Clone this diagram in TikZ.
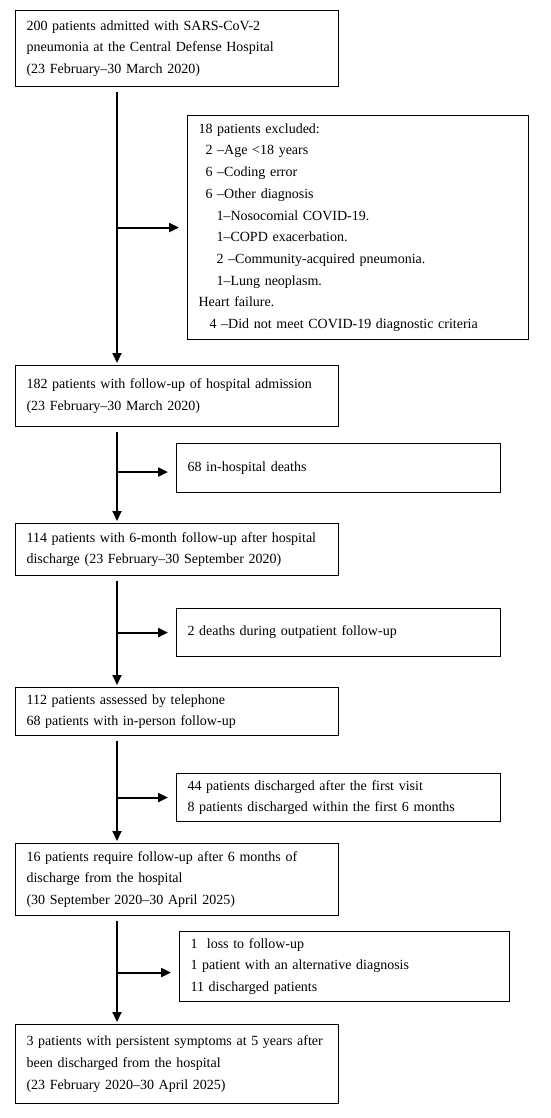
\documentclass[tikz,border=0pt]{standalone}
\usepackage{fontspec}
\setmainfont{Liberation Serif}
\usetikzlibrary{arrows.meta, positioning}

\tikzset{
  mainbox/.style={draw, line width=1.1pt, anchor=north west, align=left,
    text width=301pt, inner xsep=11pt, inner ysep=4pt,
    font=\fontsize{14}{21.7}\selectfont},
  sidebox/.style={mainbox, text width=#1},
  trunk/.style={line width=2pt, -{Triangle[length=10pt,width=9pt]},
    shorten <=5pt, shorten >=2pt},
  branch/.style={line width=2pt, -{Triangle[length=10pt,width=9pt]},
    shorten >=8pt},
}

\begin{document}
\begin{tikzpicture}[x=1pt, y=-1pt]
\useasboundingbox (0,0) rectangle (550,1118);

% main column
\node[mainbox, minimum height=76pt] (admit) at (15,10)
  {200 patients admitted with SARS-CoV-2\\
   pneumonia at the Central Defense Hospital\\
   (23 February--30 March 2020)};
\node[mainbox, minimum height=61pt] (hosp) at (15,365)
  {182 patients with follow-up of hospital admission\\
   (23 February--30 March 2020)};
\node[mainbox, minimum height=52pt] (sixmo) at (15,523)
  {114 patients with 6-month follow-up after hospital\\
   discharge (23 February--30 September 2020)};
\node[mainbox, minimum height=48pt] (phone) at (15,687)
  {112 patients assessed by telephone\\
   68 patients with in-person follow-up};
\node[mainbox, minimum height=72pt] (req) at (15,843)
  {16 patients require follow-up after 6 months of\\
   discharge from the hospital\\
   (30 September 2020--30 April 2025)};
\node[mainbox, minimum height=79pt] (persist) at (15,1024)
  {3 patients with persistent symptoms at 5 years after\\
   been discharged from the hospital\\
   (23 February 2020--30 April 2025)};

% side boxes
\node[sidebox=319pt, minimum height=224pt] (excl) at (187,115)
  {18 patients excluded:\\
   \hspace*{7pt}2 --Age <18 years\\
   \hspace*{7pt}6 --Coding error\\
   \hspace*{7pt}6 --Other diagnosis\\
   \hspace*{18pt}1--Nosocomial COVID-19.\\
   \hspace*{18pt}1--COPD exacerbation.\\
   \hspace*{18pt}2 --Community-acquired pneumonia.\\
   \hspace*{18pt}1--Lung neoplasm.\\
   Heart failure.\\
   \hspace*{11pt}4 --Did not meet COVID-19 diagnostic criteria};
\node[sidebox=302pt, minimum height=49pt] (deaths) at (176,443)
  {68 in-hospital deaths};
\node[sidebox=302pt, minimum height=48pt] (outdeath) at (176,608)
  {2 deaths during outpatient follow-up};
\node[sidebox=302pt, minimum height=48pt] (disch) at (176,773)
  {44 patients discharged after the first visit\\
   8 patients discharged within the first 6 months};
\node[sidebox=308pt, minimum height=70pt] (lost) at (179,931)
  {1\ \ loss to follow-up\\
   1 patient with an alternative diagnosis\\
   11 discharged patients};

% trunk
\coordinate (tx) at (117,0);
\draw[trunk] (admit.south -| tx) -- (hosp.north -| tx);
\draw[trunk] (hosp.south -| tx) -- (sixmo.north -| tx);
\draw[trunk] (sixmo.south -| tx) -- (phone.north -| tx);
\draw[trunk] (phone.south -| tx) -- (req.north -| tx);
\draw[trunk] (req.south -| tx) -- (persist.north -| tx);

% branches
\draw[branch] (excl.west -| tx) -- (excl.west);
\draw[branch] ([yshift=-4pt]deaths.west -| tx) -- ([yshift=-4pt]deaths.west);
\draw[branch] (outdeath.west -| tx) -- (outdeath.west);
\draw[branch] (disch.west -| tx) -- (disch.west);
\draw[branch] ([yshift=-6pt]lost.west -| tx) -- ([yshift=-6pt]lost.west);
\end{tikzpicture}
\end{document}
